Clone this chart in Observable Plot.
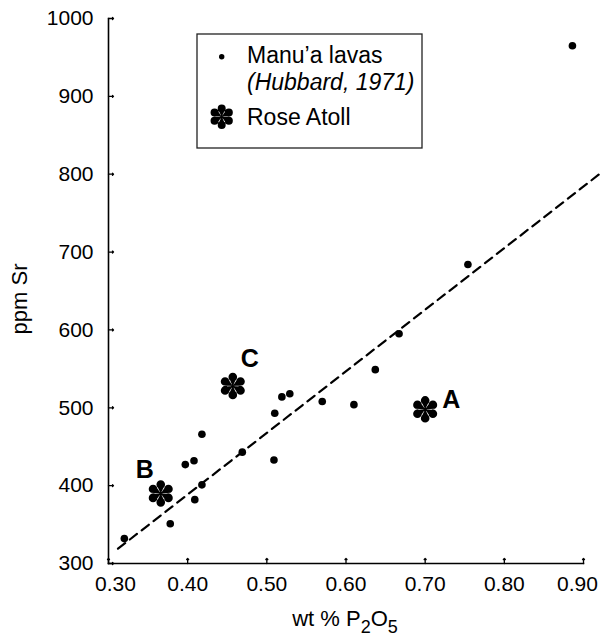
<!DOCTYPE html>
<html><head><meta charset="utf-8">
<script src="https://cdn.jsdelivr.net/npm/d3@7"></script>
<script src="https://cdn.jsdelivr.net/npm/@observablehq/plot@0.6"></script>
<style>
body{margin:0;background:#fff;}
#chart{position:relative;width:600px;height:636px;}
</style>
</head><body><div id="chart"></div>
<script>
// ---- data ----
const manuaP2O5 = [0.320, 0.378, 0.397, 0.408, 0.418, 0.409, 0.418, 0.469, 0.509, 0.510, 0.519, 0.529, 0.570, 0.610, 0.637, 0.667, 0.754, 0.886];
const manuaSr   = [332,   351,   427,   432,   466,   382,   401,   443,   433,   493,   514,   518,   508,   504,   549,   595,   684,   965];
const roseLabels = ["A", "B", "C"];
const roseP2O5   = [0.700, 0.366, 0.457];
const roseSr     = [498, 390, 528];
const trendP2O5  = [0.312, 0.925];
const trendSr    = [319, 804];
const xTicks = [0.30, 0.40, 0.50, 0.60, 0.70, 0.80, 0.90];
const yTicks = [300, 400, 500, 600, 700, 800, 900, 1000];
const legendLabels = ["Manu\u2019a lavas", "(Hubbard, 1971)", "Rose Atoll"];
const xTitleParts = ["wt % P", "2", "O", "5"];
const yTitle = "ppm Sr";

const manua = manuaP2O5.map((x, i) => ({x, y: manuaSr[i]}));
const rose = roseLabels.map((label, i) => ({label, x: roseP2O5[i], y: roseSr[i]}));
const trend = trendP2O5.map((x, i) => ({x, y: trendSr[i]}));

// flower-like asterisk symbol: six teardrop petals
function drawFlower(context, R) {
  const d = 0.66 * R, rr = 0.32 * R;
  for (let k = 0; k < 6; k++) {
    const a = (k * 60 - 90) * Math.PI / 180;
    const c = Math.cos(a), s = Math.sin(a);
    const cx = d * c, cy = d * s;
    context.moveTo(cx + rr, cy);
    context.arc(cx, cy, rr, 0, 2 * Math.PI);
    context.moveTo(0, 0);
    context.lineTo(cx + rr * s, cy - rr * c);
    context.lineTo(cx - rr * s, cy + rr * c);
    context.closePath();
  }
  context.moveTo(0.14 * R, 0);
  context.arc(0, 0, 0.14 * R, 0, 2 * Math.PI);
}
const flower = {draw(context, size) { drawFlower(context, Math.sqrt(size / Math.PI)); }};

const FONT = "'Liberation Sans', Arial, Helvetica, sans-serif";
const labelOffset = {A: [26, -9], B: [-16, -23], C: [17, -27]};
const fmtX = d3.format(".2f");
const firstX = xTicks.slice(0, 1), lastX = xTicks.slice(-1), midX = xTicks.slice(1, -1);

const plot = Plot.plot({
  width: 600, height: 636,
  marginLeft: 108, marginRight: 17, marginTop: 18, marginBottom: 73,
  style: {fontFamily: FONT, fontSize: "22px", color: "#000", background: "#fff", overflow: "hidden"},
  x: {domain: [0.30, 0.90], label: null},
  y: {domain: [300, 1000], label: null},
  marks: [
    Plot.axisX({ticks: midX, tickFormat: fmtX, tickSize: 0, tickPadding: 13, label: null, fontSize: 21}),
    Plot.axisX({ticks: firstX, tickFormat: fmtX, tickSize: 0, tickPadding: 13, label: null, fontSize: 21, dx: 7}),
    Plot.axisX({ticks: lastX, tickFormat: fmtX, tickSize: 0, tickPadding: 13, label: null, fontSize: 21, dx: -6}),
    Plot.axisY({ticks: yTicks, tickFormat: d3.format("d"), tickSize: 0, tickPadding: 15, label: null, fontSize: 21}),
    Plot.vector(xTicks, {x: d => d, frameAnchor: "bottom", length: 5, rotate: 0, anchor: "start", stroke: "#000", strokeWidth: 1.3}),
    Plot.vector(yTicks, {y: d => d, frameAnchor: "left", length: 5, rotate: 90, anchor: "start", stroke: "#000", strokeWidth: 1.3}),
    Plot.frame({anchor: "left", strokeWidth: 1.6}),
    Plot.frame({anchor: "bottom", strokeWidth: 1.6}),
    Plot.line(trend, {x: "x", y: "y", stroke: "#000", strokeWidth: 2.2, strokeDasharray: "9,6"}),
    Plot.dot(manua, {x: "x", y: "y", r: 3.8, fill: "#000"}),
    Plot.dot(rose, {x: "x", y: "y", r: 13.5, symbol: flower, fill: "#000"}),
    ...roseLabels.map(L => Plot.text(rose.filter(d => d.label === L), {
      x: "x", y: "y", text: "label", dx: labelOffset[L][0], dy: labelOffset[L][1],
      fontSize: 25, fontWeight: "bold", fill: "#000"
    }))
  ]
});
document.getElementById("chart").appendChild(plot);

const svg = d3.select(plot);
// axis titles
svg.append("text")
  .attr("transform", "translate(27,299) rotate(-90)")
  .attr("text-anchor", "middle").attr("font-size", 22).attr("font-family", FONT).attr("fill", "#000")
  .text(yTitle);
const xt = svg.append("text").attr("x", 345).attr("y", 626).attr("text-anchor", "middle")
  .attr("font-size", 22).attr("font-family", FONT).attr("fill", "#000");
xt.append("tspan").text(xTitleParts[0]);
xt.append("tspan").attr("dy", 7).attr("font-size", 18).text(xTitleParts[1]);
xt.append("tspan").attr("dy", -7).text(xTitleParts[2]);
xt.append("tspan").attr("dy", 7).attr("font-size", 18).text(xTitleParts[3]);

// legend box
const lg = svg.append("g").attr("font-family", FONT).attr("font-size", 23).attr("fill", "#000").attr("text-anchor", "start");
lg.append("rect").attr("x", 197).attr("y", 34).attr("width", 225).attr("height", 114)
  .attr("fill", "#fff").attr("stroke", "#222").attr("stroke-width", 1.3);
lg.append("circle").attr("cx", 221.7).attr("cy", 56.7).attr("r", 2.7).attr("fill", "#000");
const p = d3.path(); drawFlower(p, 12.5);
lg.append("path").attr("transform", "translate(221.7,116.7)").attr("d", p.toString()).attr("fill", "#000");
lg.append("text").attr("x", 247).attr("y", 63).text(legendLabels[0]);
lg.append("text").attr("x", 247).attr("y", 90).attr("font-style", "italic").text(legendLabels[1]);
lg.append("text").attr("x", 247).attr("y", 125).text(legendLabels[2]);
</script>
</body></html>
